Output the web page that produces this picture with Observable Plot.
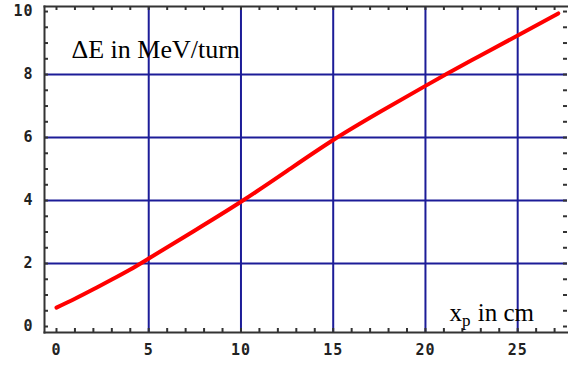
<!DOCTYPE html>
<html>
<head>
<meta charset="utf-8">
<script src="https://cdn.jsdelivr.net/npm/d3@7"></script>
<script src="https://cdn.jsdelivr.net/npm/@observablehq/plot@0.6"></script>
<style>
  html, body { margin: 0; padding: 0; background: #fff; }
  .ticklab text { letter-spacing: 1px; }
</style>
</head>
<body>
<div id="chart"></div>
<script>
// Data
const xp = [0, 1, 2, 3, 4, 5, 7.5, 10, 12.5, 15, 17.5, 20, 22.5, 25, 27.2];
const dE = [0.6, 0.88, 1.18, 1.49, 1.81, 2.16, 3.05, 3.96, 4.94, 5.92, 6.8, 7.64, 8.45, 9.24, 9.94];
const xMajor = [0, 5, 10, 15, 20, 25];
const xMinor = d3.range(0, 28, 1);
const yMajor = [0, 2, 4, 6, 8, 10];
const yMinor = d3.range(0, 10.01, 0.5);
const xGrid = [5, 10, 15, 20, 25];
const yGrid = [2, 4, 6, 8];
const yLabel = "ΔE in MeV/turn";
const xLabel = "xp in cm";

const data = xp.map((x, i) => ({x, y: dE[i]}));

const W = 568, H = 367;
const mL = 44, mR = 1, mT = 6, mB = 35;
const innerW = W - mL - mR, innerH = H - mT - mB;
const gridColor = "#1c1c98";
const frameColor = "#333";

const chart = Plot.plot({
  width: W,
  height: H,
  marginLeft: mL, marginRight: mR, marginTop: mT, marginBottom: mB,
  style: {background: "#fff"},
  x: {domain: [-0.65, 27.7]},
  y: {domain: [-0.19, 10.16]},
  marks: [
    Plot.gridX(xGrid, {stroke: gridColor, strokeOpacity: 1, strokeWidth: 2}),
    Plot.gridY(yGrid, {stroke: gridColor, strokeOpacity: 1, strokeWidth: 2}),
    // inward ticks: bottom and top
    Plot.tickX(xMinor, {x: d => d, stroke: frameColor, strokeWidth: 2, insetTop: innerH - 4}),
    Plot.tickX(xMinor, {x: d => d, stroke: frameColor, strokeWidth: 2, insetBottom: innerH - 4}),
    // inward ticks: left and right
    Plot.tickY(yMinor, {y: d => d, stroke: frameColor, strokeWidth: 2, insetRight: innerW - 4}),
    Plot.tickY(yMinor, {y: d => d, stroke: frameColor, strokeWidth: 2, insetLeft: innerW - 4}),
    Plot.frame({anchor: "left", stroke: frameColor, strokeWidth: 2}),
    Plot.frame({anchor: "bottom", stroke: frameColor, strokeWidth: 2}),
    Plot.frame({anchor: "top", stroke: frameColor, strokeWidth: 2}),
    Plot.axisX(xMajor, {tickSize: 0, tickPadding: 12, fontSize: 15, fontWeight: "bold", fontFamily: "DejaVu Sans Mono", fill: "#222", className: "ticklab", label: null}),
    Plot.axisY(yMajor, {tickSize: 0, tickPadding: 11, fontSize: 15, fontWeight: "bold", fontFamily: "DejaVu Sans Mono", fill: "#222", className: "ticklab", label: null}),
    Plot.line(data, {x: "x", y: "y", stroke: "#ff0000", strokeWidth: 4, curve: "natural"}),
    Plot.text([yLabel], {frameAnchor: "top-left", dx: 27, dy: 51, fontSize: 26, fontFamily: "Liberation Serif", fill: "#000", textAnchor: "start", lineAnchor: "bottom", className: "ylab"}),
    Plot.text([xLabel], {frameAnchor: "bottom-left", dx: 405, dy: -12, fontSize: 25, fontFamily: "Liberation Serif", fill: "#000", textAnchor: "start", lineAnchor: "bottom", className: "xlab"})
  ]
});

// subscript "p" in the x label
d3.select(chart).selectAll(".xlab text").each(function () {
  const t = d3.select(this);
  const s = t.text();
  t.text(null);
  t.append("tspan").text(s.slice(0, 1));
  t.append("tspan").attr("dy", 5).attr("font-size", 17).text(s.slice(1, 2));
  t.append("tspan").attr("dy", -5).attr("dx", 1).text(s.slice(2));
});

document.getElementById("chart").appendChild(chart);
</script>
</body>
</html>
